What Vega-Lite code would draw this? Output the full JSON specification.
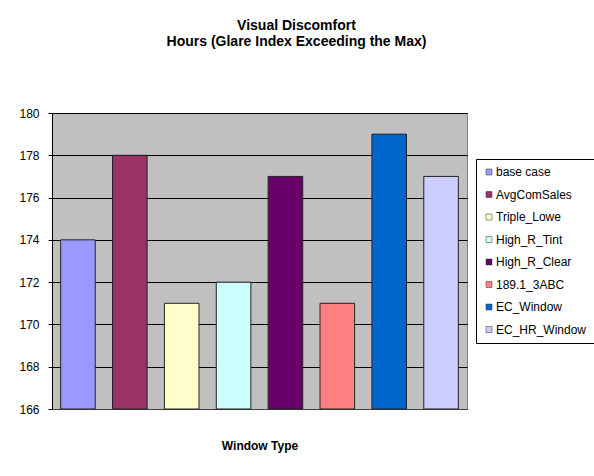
{
  "$schema": "https://vega.github.io/schema/vega-lite/v6.json",
  "autosize": "none",
  "width": 415,
  "height": 296,
  "padding": {"left": 52, "top": 113, "right": 127, "bottom": 67},
  "background": "white",
  "title": {
    "text": ["Visual Discomfort", "Hours (Glare Index Exceeding the Max)"],
    "anchor": "middle",
    "frame": "group",
    "dx": 37,
    "fontSize": 14,
    "fontWeight": "bold",
    "font": "Liberation Sans",
    "color": "black",
    "lineHeight": 16,
    "offset": 58
  },
  "data": {
    "values": [
      {"window": "base case", "hours": 174},
      {"window": "AvgComSales", "hours": 178},
      {"window": "Triple_Lowe", "hours": 171},
      {"window": "High_R_Tint", "hours": 172},
      {"window": "High_R_Clear", "hours": 177},
      {"window": "189.1_3ABC", "hours": 171},
      {"window": "EC_Window", "hours": 179},
      {"window": "EC_HR_Window", "hours": 177}
    ]
  },
  "mark": {"type": "bar", "stroke": "#222222", "strokeWidth": 1},
  "encoding": {
    "x": {
      "field": "window",
      "type": "nominal",
      "sort": null,
      "scale": {"paddingInner": 0.3333, "paddingOuter": 0.1667},
      "axis": {
        "title": "Window Type",
        "labels": false,
        "ticks": false,
        "domainColor": "#404040",
        "titleFont": "Liberation Sans",
        "titleFontSize": 12,
        "titleFontWeight": "bold",
        "titleColor": "black",
        "titlePadding": 31
      }
    },
    "y": {
      "field": "hours",
      "type": "quantitative",
      "scale": {"domain": [166, 180], "nice": false, "zero": false},
      "axis": {
        "title": null,
        "values": [166, 168, 170, 172, 174, 176, 178, 180],
        "grid": true,
        "gridColor": "black",
        "gridWidth": 1,
        "domainColor": "black",
        "tickColor": "black",
        "tickSize": 4,
        "labelFont": "Liberation Sans",
        "labelFontSize": 12,
        "labelColor": "black",
        "labelPadding": 9
      }
    },
    "y2": {"datum": 166},
    "color": {
      "field": "window",
      "type": "nominal",
      "sort": null,
      "scale": {
        "domain": ["base case", "AvgComSales", "Triple_Lowe", "High_R_Tint", "High_R_Clear", "189.1_3ABC", "EC_Window", "EC_HR_Window"],
        "range": ["#9999FF", "#993366", "#FFFFCC", "#CCFFFF", "#660066", "#FF8080", "#0066CC", "#CCCCFF"]
      },
      "legend": {
        "title": null,
        "orient": "none",
        "legendX": 424,
        "legendY": 46,
        "fillColor": "white",
        "strokeColor": "black",
        "padding": 7,
        "symbolType": "square",
        "symbolSize": 36,
        "symbolStrokeColor": "#333333",
        "symbolStrokeWidth": 0.5,
        "symbolOffset": 0,
        "labelFont": "Liberation Sans",
        "labelFontSize": 12,
        "labelColor": "black",
        "labelOffset": 1,
        "rowPadding": 10.5,
        "columnPadding": 0
      }
    }
  },
  "config": {
    "view": {"fill": "#C0C0C0", "stroke": "#808080", "strokeWidth": 1},
    "axis": {"gridOpacity": 1}
  }
}
